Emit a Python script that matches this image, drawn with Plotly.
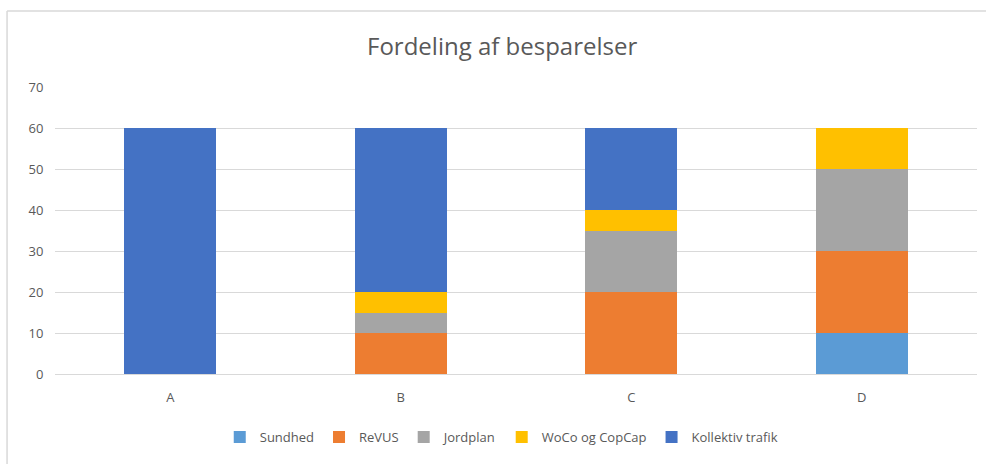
import plotly.graph_objects as go

categories = ["A", "B", "C", "D"]
series_names = ["Sundhed", "ReVUS", "Jordplan", "WoCo og CopCap", "Kollektiv trafik"]
sundhed = [0, 0, 0, 10]
revus = [0, 10, 20, 20]
jordplan = [0, 5, 15, 20]
woco = [0, 5, 5, 10]
kollektiv = [60, 40, 20, 0]
colors = ["#5B9BD5", "#ED7D31", "#A5A5A5", "#FFC000", "#4472C4"]

values = [sundhed, revus, jordplan, woco, kollektiv]
font = "Open Sans, Noto Sans, sans-serif"

fig = go.Figure()
for name, vals, col in zip(series_names, values, colors):
    fig.add_trace(go.Bar(x=categories, y=vals, name=name, marker=dict(color=col, line=dict(width=0))))

border = dict(color="#d9d9d9", width=1.5)
fig.update_layout(
    barmode="stack",
    bargap=0.6,
    width=986, height=464,
    margin=dict(l=55, r=9, t=87, b=90),
    paper_bgcolor="white", plot_bgcolor="white",
    title=dict(text="Fordeling af besparelser", xref="paper", x=0.485, xanchor="center",
               y=1 - 47 / 464, yanchor="middle",
               font=dict(family=font, size=24, color="#595959")),
    font=dict(family=font, size=13, color="#595959"),
    legend=dict(orientation="h", x=0.484, xanchor="center", y=-0.22, yanchor="middle",
                font=dict(size=13, color="#595959"), traceorder="normal"),
    xaxis=dict(showgrid=False, showline=True, linecolor="#d9d9d9", ticks="outside", ticklen=11,
               tickcolor="white", tickfont=dict(size=13)),
    yaxis=dict(range=[0, 70], dtick=10, showgrid=True, gridcolor="#d9d9d9", zeroline=False,
               showline=False, ticks="outside", ticklen=8, tickcolor="white", tickfont=dict(size=13)),
    shapes=[
        dict(type="line", xref="paper", yref="paper", x0=-0.052, x1=-0.052, y0=-0.5, y1=1.265,
             line=border, layer="below"),
        dict(type="line", xref="paper", yref="paper", x0=-0.052, x1=1.2, y0=1.265, y1=1.265,
             line=border, layer="below"),
    ],
)

fig.write_html(
    "out.html",
    config={"displayModeBar": False},
    post_script="document.body.style.margin='0';document.body.style.overflow='hidden';",
)
